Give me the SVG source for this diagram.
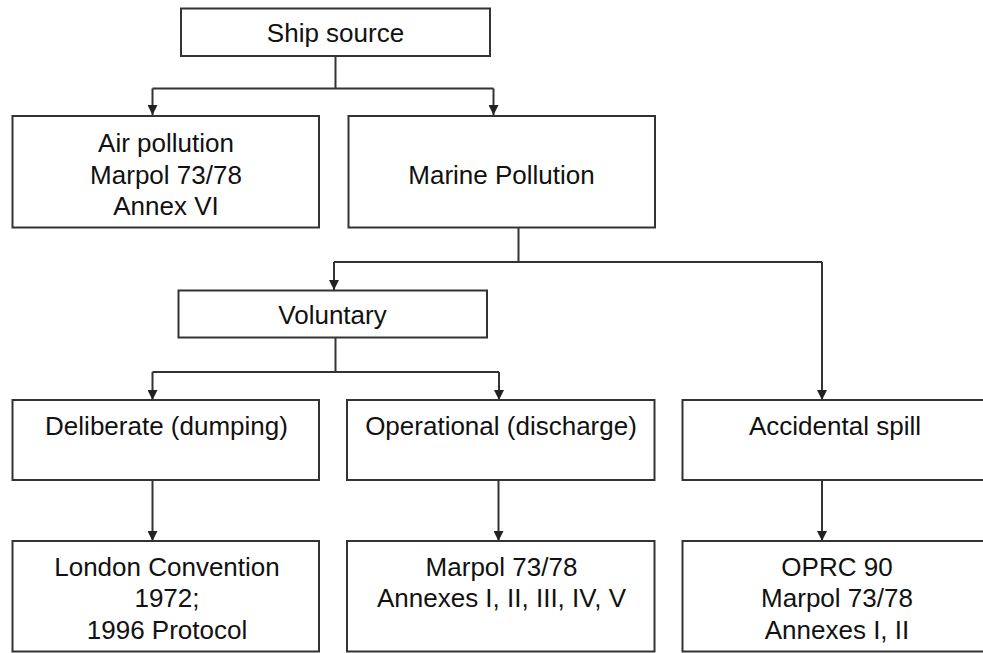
<svg xmlns="http://www.w3.org/2000/svg" width="983" height="653" viewBox="0 0 983 653">
<defs>
<style>
.box{fill:#fff;stroke:#333;stroke-width:2}
.t{font-family:"Liberation Sans",Arial,sans-serif;font-size:26px;fill:#111;text-anchor:middle}
.c{fill:none;stroke:#333;stroke-width:2}
</style>
<marker id="ah" viewBox="0 0 10 10" refX="10" refY="5" markerWidth="10" markerHeight="10" markerUnits="userSpaceOnUse" orient="auto">
<path d="M0,0 L10,5 L0,10 Z" fill="#222"/>
</marker>
</defs>
<rect width="983" height="653" fill="#fff"/>
<g id="connectors">
<path class="c" d="M335.5,56 V88.5"/>
<path class="c" d="M152.5,88.5 H493.5"/>
<path class="c" d="M152.5,88.5 V115" marker-end="url(#ah)"/>
<path class="c" d="M493.5,88.5 V115" marker-end="url(#ah)"/>
<path class="c" d="M518.5,227 V262"/>
<path class="c" d="M334,262 H822"/>
<path class="c" d="M334,262 V290" marker-end="url(#ah)"/>
<path class="c" d="M822,262 V400" marker-end="url(#ah)"/>
<path class="c" d="M335.5,337.5 V372"/>
<path class="c" d="M152.5,372 H499"/>
<path class="c" d="M152.5,372 V400" marker-end="url(#ah)"/>
<path class="c" d="M499,372 V400" marker-end="url(#ah)"/>
<path class="c" d="M152.5,480 V541" marker-end="url(#ah)"/>
<path class="c" d="M498.5,480 V541" marker-end="url(#ah)"/>
<path class="c" d="M822,480 V541" marker-end="url(#ah)"/>
</g>
<g id="ship-source">
<rect class="box" x="181" y="8.5" width="309" height="47.5"/>
<text class="t" x="335.5" y="42">Ship source</text>
</g>
<g id="air-pollution">
<rect class="box" x="12.5" y="116" width="306.5" height="111.5"/>
<text class="t" x="166" y="152">Air pollution</text>
<text class="t" x="166" y="184">Marpol 73/78</text>
<text class="t" x="166" y="215">Annex VI</text>
</g>
<g id="marine-pollution">
<rect class="box" x="348.5" y="116" width="306.5" height="111.5"/>
<text class="t" x="501.5" y="184">Marine Pollution</text>
</g>
<g id="voluntary">
<rect class="box" x="178.5" y="290.5" width="308.5" height="47"/>
<text class="t" x="332.5" y="324">Voluntary</text>
</g>
<g id="deliberate">
<rect class="box" x="12.5" y="400" width="306.5" height="80"/>
<text class="t" x="166.5" y="435">Deliberate (dumping)</text>
</g>
<g id="operational">
<rect class="box" x="347" y="400" width="307.5" height="80"/>
<text class="t" x="501" y="435">Operational (discharge)</text>
</g>
<g id="accidental">
<rect class="box" x="682.5" y="400" width="310" height="80"/>
<text class="t" x="835" y="435">Accidental spill</text>
</g>
<g id="london">
<rect class="box" x="12.5" y="541" width="306.5" height="110.5"/>
<text class="t" x="167" y="576">London Convention</text>
<text class="t" x="167" y="607">1972;</text>
<text class="t" x="167" y="639">1996 Protocol</text>
</g>
<g id="marpol-annexes">
<rect class="box" x="347" y="541" width="307.5" height="110.5"/>
<text class="t" x="501.5" y="576">Marpol 73/78</text>
<text class="t" x="501.5" y="607">Annexes I, II, III, IV, V</text>
</g>
<g id="oprc">
<rect class="box" x="682.5" y="541" width="310" height="110.5"/>
<text class="t" x="837" y="576">OPRC 90</text>
<text class="t" x="837" y="607">Marpol 73/78</text>
<text class="t" x="837" y="639">Annexes I, II</text>
</g>
</svg>
